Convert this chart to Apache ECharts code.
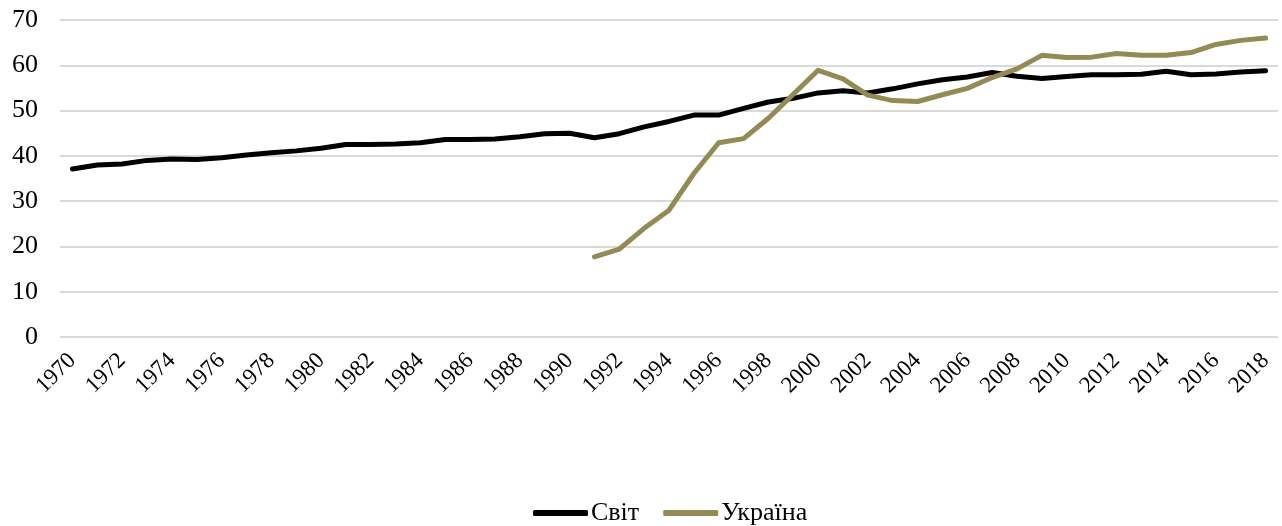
<!DOCTYPE html>
<html>
<head>
<meta charset="utf-8">
<script src="https://cdn.jsdelivr.net/npm/echarts@6/dist/echarts.min.js"></script>
<style>
html,body{margin:0;padding:0;background:#fff;}
#chart{width:1282px;height:526px;}
</style>
</head>
<body>
<div id="chart"></div>
<script>
var years = [];
for (var y = 1970; y <= 2018; y++) years.push(String(y));

var world = [37.1, 38.0, 38.2, 39.0, 39.3, 39.2, 39.6, 40.2, 40.7, 41.1, 41.7, 42.5, 42.5, 42.6, 42.9, 43.6, 43.6, 43.7, 44.2, 44.9, 45.0,
  44.0, 44.9, 46.4, 47.6, 49.0, 49.0, 50.5, 51.9, 52.7, 53.9, 54.4, 53.9, 54.8, 55.9, 56.8, 57.4, 58.4, 57.6, 57.1, 57.5, 57.9, 57.9, 58.0, 58.7, 57.9, 58.1, 58.5, 58.8];

var ukraine = [null, null, null, null, null, null, null, null, null, null, null, null, null, null, null, null, null, null, null, null, null,
  17.7, 19.4, 24.0, 28.0, 36.1, 42.9, 43.8, 48.3, 53.6, 58.9, 57.0, 53.4, 52.2, 52.0, 53.5, 54.9, 57.3, 59.2, 62.2, 61.7, 61.8, 62.6, 62.2, 62.2, 62.8, 64.6, 65.5, 66.0];

var seriesNames = ['Світ', 'Україна'];
var colors = ['#000000', '#948A54'];

var chart = echarts.init(document.getElementById('chart'), null, {renderer: 'canvas'});
var font = '"Liberation Serif", "Times New Roman", serif';
chart.setOption({
  animation: false,
  backgroundColor: '#ffffff',
  grid: {left: 60, right: 4, top: 20, bottom: 189, containLabel: false},
  legend: {
    top: 495,
    left: 528,
    itemWidth: 55,
    itemHeight: 6,
    itemGap: 24,
    icon: 'roundRect',
    textStyle: {fontFamily: font, fontSize: 26, color: '#000', padding: [0, 0, 0, -2]},
    data: seriesNames
  },
  xAxis: {
    type: 'category',
    data: years,
    boundaryGap: true,
    axisLine: {show: false},
    axisTick: {show: false},
    axisLabel: {interval: 1, rotate: 45, fontFamily: font, fontSize: 23, color: '#000', margin: 20}
  },
  yAxis: {
    type: 'value',
    min: 0, max: 70, interval: 10,
    axisLine: {show: false},
    axisTick: {show: false},
    splitLine: {lineStyle: {color: '#d9d9d9', width: 2}},
    axisLabel: {fontFamily: font, fontSize: 26, color: '#000', margin: 22}
  },
  series: [
    {name: seriesNames[0], type: 'line', data: world, showSymbol: false, symbol: 'none', color: colors[0],
     lineStyle: {width: 5, color: colors[0], cap: 'round', join: 'round'}},
    {name: seriesNames[1], type: 'line', data: ukraine, showSymbol: false, symbol: 'none', color: colors[1],
     lineStyle: {width: 5, color: colors[1], cap: 'round', join: 'round'}}
  ]
});
</script>
</body>
</html>
